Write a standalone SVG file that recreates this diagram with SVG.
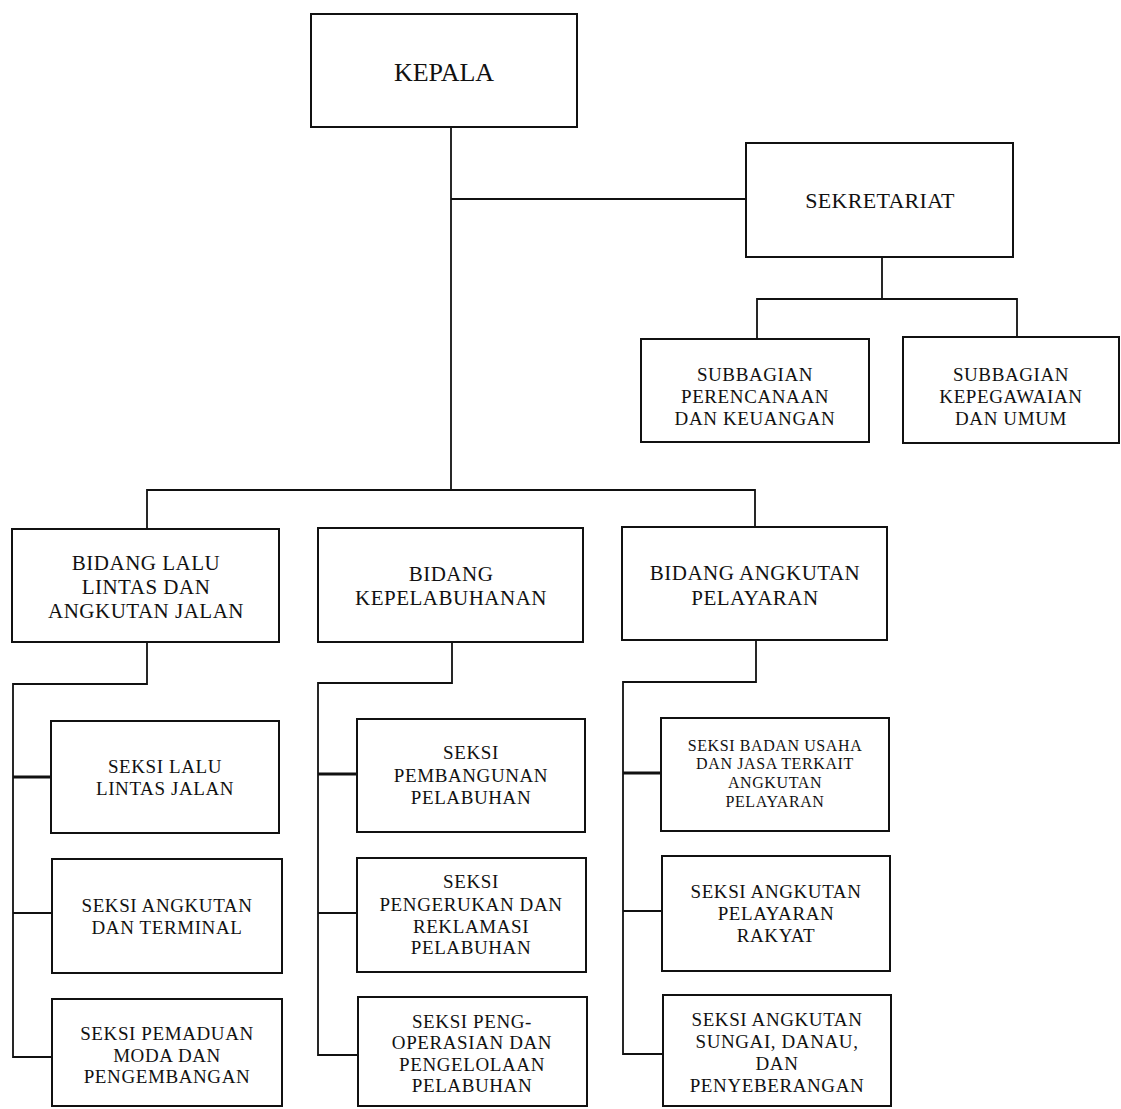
<svg xmlns="http://www.w3.org/2000/svg" width="1121" height="1109" viewBox="0 0 1121 1109">
<style>
.box{fill:#fff;stroke:#111;stroke-width:2}
.ln{fill:none;stroke:#111;stroke-width:1.8}
.thk{fill:none;stroke:#111;stroke-width:3}
text{font-family:"Liberation Serif","Times New Roman",serif;fill:#111;text-anchor:middle}
.t26{font-size:26px}
.t22{font-size:22px;letter-spacing:0.3px}
.t21{font-size:21px;letter-spacing:0.5px}
.t19{font-size:19px;letter-spacing:0.6px}
.t16{font-size:16px;letter-spacing:0.6px}
</style>
<rect width="1121" height="1109" fill="#fff"/>
<g id="connectors">
<path class="ln" d="M451 127V490"/>
<path class="ln" d="M451 199H746"/>
<path class="ln" d="M882 257V299M757 339V299H1017V337"/>
<path class="ln" d="M147 529V490H755V527"/>
<path class="ln" d="M147 642V684H13V1057H52M13 913H52"/>
<path class="thk" d="M13 777H51"/>
<path class="ln" d="M452 642V683H318V1055H358M318 913H357"/>
<path class="thk" d="M318 774H357"/>
<path class="ln" d="M756 640V682H623V1054H663M623 911H662"/>
<path class="thk" d="M623 773H661"/>
</g>
<g id="kepala"><rect class="box" x="311" y="14" width="266" height="113"/><text class="t26" x="444" y="81">KEPALA</text></g>
<g id="sekretariat"><rect class="box" x="746" y="143" width="267" height="114"/><text class="t22" x="880" y="208">SEKRETARIAT</text></g>
<g id="subbag-perencanaan"><rect class="box" x="641" y="339" width="228" height="103"/><text class="t19" x="755" y="381">SUBBAGIAN</text><text class="t19" x="755" y="403">PERENCANAAN</text><text class="t19" x="755" y="425">DAN KEUANGAN</text></g>
<g id="subbag-kepegawaian"><rect class="box" x="903" y="337" width="216" height="106"/><text class="t19" x="1011" y="381">SUBBAGIAN</text><text class="t19" x="1011" y="403">KEPEGAWAIAN</text><text class="t19" x="1011" y="425">DAN UMUM</text></g>
<g id="bidang-llaj"><rect class="box" x="12" y="529" width="267" height="113"/><text class="t21" x="146" y="570">BIDANG LALU</text><text class="t21" x="146" y="594">LINTAS DAN</text><text class="t21" x="146" y="618">ANGKUTAN JALAN</text></g>
<g id="bidang-kepelabuhanan"><rect class="box" x="318" y="528" width="265" height="114"/><text class="t21" x="451" y="581">BIDANG</text><text class="t21" x="451" y="605">KEPELABUHANAN</text></g>
<g id="bidang-pelayaran"><rect class="box" x="622" y="527" width="265" height="113"/><text class="t21" x="755" y="580">BIDANG ANGKUTAN</text><text class="t21" x="755" y="605">PELAYARAN</text></g>
<g id="seksi-llj"><rect class="box" x="51" y="721" width="228" height="112"/><text class="t19" x="165" y="773">SEKSI LALU</text><text class="t19" x="165" y="795">LINTAS JALAN</text></g>
<g id="seksi-angkutan-terminal"><rect class="box" x="52" y="859" width="230" height="114"/><text class="t19" x="167" y="912">SEKSI ANGKUTAN</text><text class="t19" x="167" y="934">DAN TERMINAL</text></g>
<g id="seksi-pemaduan"><rect class="box" x="52" y="999" width="230" height="107"/><text class="t19" x="167" y="1040">SEKSI PEMADUAN</text><text class="t19" x="167" y="1062">MODA DAN</text><text class="t19" x="167" y="1083">PENGEMBANGAN</text></g>
<g id="seksi-pembangunan"><rect class="box" x="357" y="719" width="228" height="113"/><text class="t19" x="471" y="759">SEKSI</text><text class="t19" x="471" y="782">PEMBANGUNAN</text><text class="t19" x="471" y="804">PELABUHAN</text></g>
<g id="seksi-pengerukan"><rect class="box" x="357" y="858" width="229" height="114"/><text class="t19" x="471" y="888">SEKSI</text><text class="t19" x="471" y="911">PENGERUKAN DAN</text><text class="t19" x="471" y="933">REKLAMASI</text><text class="t19" x="471" y="954">PELABUHAN</text></g>
<g id="seksi-pengoperasian"><rect class="box" x="358" y="997" width="229" height="109"/><text class="t19" x="472" y="1028">SEKSI PENG-</text><text class="t19" x="472" y="1049">OPERASIAN DAN</text><text class="t19" x="472" y="1071">PENGELOLAAN</text><text class="t19" x="472" y="1092">PELABUHAN</text></g>
<g id="seksi-badan-usaha"><rect class="box" x="661" y="718" width="228" height="113"/><text class="t16" x="775" y="751">SEKSI BADAN USAHA</text><text class="t16" x="775" y="769">DAN JASA TERKAIT</text><text class="t16" x="775" y="788">ANGKUTAN</text><text class="t16" x="775" y="807">PELAYARAN</text></g>
<g id="seksi-pelayaran-rakyat"><rect class="box" x="662" y="856" width="228" height="115"/><text class="t19" x="776" y="898">SEKSI ANGKUTAN</text><text class="t19" x="776" y="920">PELAYARAN</text><text class="t19" x="776" y="942">RAKYAT</text></g>
<g id="seksi-sungai"><rect class="box" x="663" y="995" width="228" height="111"/><text class="t19" x="777" y="1026">SEKSI ANGKUTAN</text><text class="t19" x="777" y="1048">SUNGAI, DANAU,</text><text class="t19" x="777" y="1070">DAN</text><text class="t19" x="777" y="1092">PENYEBERANGAN</text></g>
</svg>
